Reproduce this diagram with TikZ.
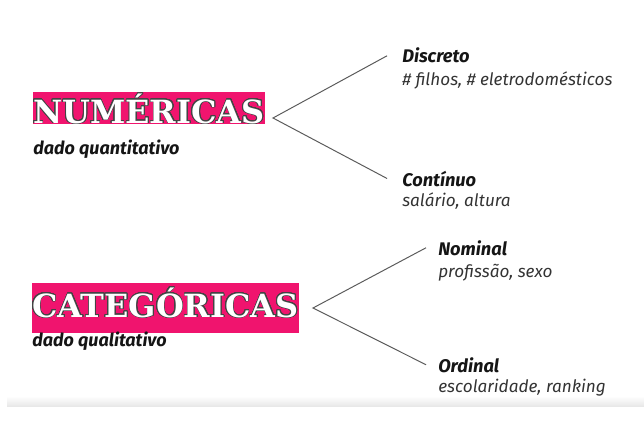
\documentclass[tikz,border=0pt]{standalone}
\usepackage{fontspec}
\setmainfont{Fira Sans}
\newfontfamily\slabfont{DejaVu Serif}
\usepackage{contour}
\usetikzlibrary{positioning}
\definecolor{tagpink}{HTML}{F0146E}
\definecolor{branchgray}{HTML}{5A5A5A}
\definecolor{textdark}{HTML}{151515}
\definecolor{textsoft}{HTML}{333333}
\contourlength{0.45pt}
\contournumber{32}
\newcommand{\tagtitle}[1]{\contour{textdark!80}{\color{white}#1}}

\begin{document}
\begin{tikzpicture}[x=0.025cm,y=-0.025cm,
  tag/.style={fill=tagpink,anchor=north west,inner xsep=0pt,inner ysep=0pt,
    font=\slabfont\bfseries\fontsize{22.7}{23}\selectfont},
  note/.style={font=\bfseries\itshape\fontsize{12.8}{14}\selectfont,text=textdark,
    anchor=base west,inner sep=0pt},
  kind/.style={font=\bfseries\itshape\fontsize{13}{15}\selectfont,text=textdark,
    anchor=base west,inner sep=0pt},
  sample/.style={font=\itshape\fontsize{12.2}{13}\selectfont,text=textsoft,
    anchor=base west,inner sep=0pt},
  branch/.style={draw=branchgray,line width=0.7pt}]

  \useasboundingbox (0,0) rectangle (644,439);
  \shade[top color=white,bottom color=black!9] (7,396) rectangle (644,406);

  % numericas
  \node[tag,minimum width=164.5pt,text height=22pt,text depth=0.7pt] (num) at (33,92) {\tagtitle{NUMÉRICAS}};
  \node[note] (numsub) at (33,155) {dado quantitativo};
  \coordinate (numtip) at (273,118);
  \node[kind] (discreto) at (402,63) {Discreto};
  \node[sample] (discretoex) at (402,86) {\# filhos, \# eletrodomésticos};
  \node[kind] (continuo) at (402,186) {Contínuo};
  \node[sample] (continuoex) at (402,206) {salário, altura};
  \draw[branch] ([xshift=-10.6pt]discreto.west) -- (numtip) -- ([xshift=-10.6pt]continuo.west);

  % categoricas
  \node[tag,minimum width=189.3pt,text height=24.1pt,text depth=11.3pt] (cat) at (32,283) {\tagtitle{CATEGÓRICAS}};
  \node[note] (catsub) at (32,346) {dado qualitativo};
  \coordinate (cattip) at (313,308);
  \node[kind] (nominal) at (438,255) {Nominal};
  \node[sample] (nominalex) at (438,277) {profissão, sexo};
  \node[kind] (ordinal) at (438,372) {Ordinal};
  \node[sample] (ordinalex) at (438,392) {escolaridade, ranking};
  \draw[branch] ([xshift=-8.5pt]nominal.west) -- (cattip) -- ([xshift=-8.5pt]ordinal.west);
\end{tikzpicture}
\end{document}
